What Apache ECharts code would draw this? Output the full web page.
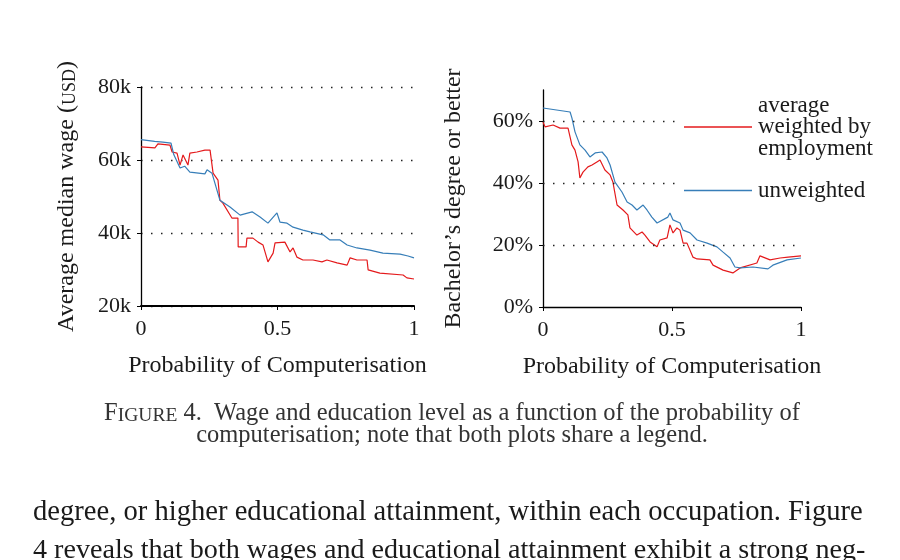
<!DOCTYPE html>
<html>
<head>
<meta charset="utf-8">
<script src="https://cdn.jsdelivr.net/npm/echarts@6/dist/echarts.min.js"></script>
<style>
html, body { margin: 0; padding: 0; background: #fff; }
#chart { width: 900px; height: 560px; }
</style>
</head>
<body>
<div id="chart"></div>
<script>
const serif = 'Liberation Serif'
const ink = '#1a1a1a'
const red = '#e41a1c'
const blue = '#377eb8'

// [probability of computerisation, average median wage in k USD]
const wageUnweighted = [[0, 65.6], [0.05, 65.1], [0.08, 64.9], [0.11, 64.6], [0.12, 61.5], [0.143, 57.8], [0.16, 58.3], [0.179, 56.7], [0.234, 56.2], [0.242, 57.3], [0.26, 56.4], [0.289, 49.0], [0.326, 47.1], [0.363, 44.9], [0.407, 45.8], [0.436, 44.4], [0.465, 42.7], [0.498, 45.5], [0.509, 43.0], [0.535, 42.7], [0.557, 41.6], [0.593, 40.8], [0.619, 40.3], [0.667, 39.5], [0.692, 38.1], [0.729, 38.1], [0.755, 36.7], [0.791, 35.9], [0.839, 35.3], [0.886, 34.5], [0.949, 34.2], [0.978, 33.7], [1, 33.2]]
const wageWeighted = [[0, 63.6], [0.051, 63.3], [0.062, 64.4], [0.106, 64.1], [0.114, 62.2], [0.132, 61.9], [0.143, 58.6], [0.154, 61.4], [0.172, 58.6], [0.179, 61.9], [0.205, 62.2], [0.234, 62.7], [0.253, 62.7], [0.264, 56.4], [0.282, 54.5], [0.289, 49.0], [0.3, 48.2], [0.333, 44.1], [0.355, 44.1], [0.356, 36.2], [0.385, 36.2], [0.388, 38.6], [0.41, 38.6], [0.429, 37.5], [0.447, 36.7], [0.465, 32.1], [0.484, 34.5], [0.491, 37.3], [0.527, 37.5], [0.546, 34.8], [0.557, 35.9], [0.571, 33.4], [0.593, 32.6], [0.63, 32.6], [0.663, 32.1], [0.681, 32.6], [0.718, 31.8], [0.755, 31.2], [0.766, 33.2], [0.791, 32.6], [0.828, 32.6], [0.832, 29.9], [0.875, 29.0], [0.96, 28.5], [0.974, 27.7], [1, 27.4]]

// [probability of computerisation, share with bachelor's degree or better in %]
const eduUnweighted = [[0, 64.2], [0.105, 62.9], [0.112, 61.0], [0.124, 56.5], [0.143, 52.3], [0.163, 50.6], [0.182, 48.4], [0.202, 49.7], [0.229, 50.0], [0.248, 48.1], [0.26, 45.8], [0.279, 40.3], [0.306, 37.1], [0.326, 33.9], [0.345, 32.9], [0.364, 31.3], [0.388, 32.9], [0.403, 31.3], [0.422, 29.0], [0.442, 27.1], [0.484, 29.0], [0.492, 30.3], [0.504, 28.1], [0.531, 27.1], [0.543, 24.8], [0.57, 23.9], [0.597, 21.6], [0.636, 20.6], [0.674, 19.4], [0.698, 17.7], [0.725, 15.8], [0.744, 12.9], [0.764, 12.6], [0.814, 12.9], [0.872, 12.3], [0.891, 13.5], [0.946, 15.2], [1, 15.8]]
const eduWeighted = [[0, 59.7], [0.008, 58.1], [0.039, 58.7], [0.066, 57.7], [0.097, 57.7], [0.112, 52.3], [0.124, 50.6], [0.136, 46.8], [0.143, 41.6], [0.155, 43.5], [0.174, 45.2], [0.19, 45.8], [0.209, 46.8], [0.221, 47.4], [0.24, 44.2], [0.26, 42.6], [0.271, 40.3], [0.287, 32.9], [0.31, 31.3], [0.329, 29.7], [0.337, 25.5], [0.364, 23.2], [0.384, 24.2], [0.395, 23.2], [0.415, 21.0], [0.442, 19.4], [0.453, 21.6], [0.481, 22.3], [0.492, 26.5], [0.504, 23.9], [0.519, 25.5], [0.531, 24.8], [0.543, 20.6], [0.558, 20.6], [0.581, 16.1], [0.597, 15.5], [0.647, 15.2], [0.659, 13.5], [0.698, 11.9], [0.736, 11.0], [0.764, 12.6], [0.829, 14.2], [0.841, 16.5], [0.88, 15.2], [0.919, 15.8], [0.95, 16.1], [1, 16.5]]

const wageTicks = [20, 40, 60, 80]
const eduTicks = [0, 20, 40, 60]
const eduGrid = [20, 40, 60]

const nameWeighted = 'average weighted by employment'
const nameUnweighted = 'unweighted'

const dotted = { type: [1.5, 8.5], color: '#222', width: 1.3 }
const labelStyle = { fontFamily: serif, fontSize: 22, color: ink }
const legendText = { fontFamily: serif, fontSize: 23, lineHeight: 21.5, color: ink, padding: [0, 0, 0, 1] }

const xAxisBase = (gridIndex, lineWidth) => ({
    type: 'value',
    gridIndex,
    min: 0,
    max: 1,
    interval: 0.5,
    name: 'Probability of Computerisation',
    nameLocation: 'middle',
    nameGap: 48,
    nameTextStyle: { fontFamily: serif, fontSize: 24, color: ink },
    axisLine: { lineStyle: { color: '#000', width: lineWidth } },
    axisTick: { length: 4, lineStyle: { color: '#000', width: 1 } },
    axisLabel: { ...labelStyle, margin: 12 },
    splitLine: { show: false }
})

const chart = echarts.init(document.getElementById('chart'))
chart.setOption({
    animation: false,
    backgroundColor: '#fff',
    grid: [
        { left: 141, right: 486, top: 87, bottom: 254 },
        { left: 543, right: 99, top: 90, bottom: 253 }
    ],
    xAxis: [xAxisBase(0, 2), xAxisBase(1, 1.3)],
    yAxis: [
        {
            type: 'value',
            gridIndex: 0,
            min: 20,
            max: 80,
            interval: 20,
            name: 'Average median wage ({sc|USD})',
            nameLocation: 'middle',
            nameGap: 62,
            nameTextStyle: {
                fontFamily: serif, fontSize: 24, color: ink,
                rich: { sc: { fontFamily: serif, fontSize: 18, color: ink, verticalAlign: 'bottom' } }
            },
            axisLine: { show: true, lineStyle: { color: '#000', width: 1.3 } },
            axisTick: { show: true, length: 4, customValues: wageTicks, lineStyle: { color: '#000' } },
            axisLabel: { ...labelStyle, margin: 10, customValues: wageTicks, formatter: v => v + 'k' },
            splitLine: { show: true, lineStyle: dotted }
        },
        {
            type: 'value',
            gridIndex: 1,
            min: 0,
            max: 70,
            interval: 20,
            name: 'Bachelor\u2019s degree or better',
            nameLocation: 'middle',
            nameGap: 77,
            nameTextStyle: { fontFamily: serif, fontSize: 24, color: ink },
            axisLine: { show: true, lineStyle: { color: '#000', width: 1.3 } },
            axisTick: { show: true, length: 4, customValues: eduTicks, lineStyle: { color: '#000' } },
            axisLabel: { ...labelStyle, margin: 10, customValues: eduTicks, formatter: v => v + '%' },
            splitLine: { show: false }
        }
    ],
    legend: [
        {
            data: [nameWeighted],
            left: 683,
            top: 88,
            z: 10,
            icon: 'rect',
            itemWidth: 68,
            itemHeight: 1.3,
            padding: [6, 4, 6, 1],
            backgroundColor: '#fff',
            formatter: () => 'average\nweighted by\nemployment',
            textStyle: legendText
        },
        {
            data: [nameUnweighted],
            left: 683,
            top: 173,
            z: 10,
            icon: 'rect',
            itemWidth: 68,
            itemHeight: 1.3,
            padding: [6, 4, 6, 1],
            backgroundColor: '#fff',
            textStyle: legendText
        }
    ],
    title: [
        {
            text: '{big|F}{sc|IGURE} 4.  Wage and education level as a function of the probability of',
            left: 452, top: 401, textAlign: 'center', padding: 0,
            textStyle: {
                fontFamily: serif, fontSize: 24.5, fontWeight: 'normal', color: '#333',
                rich: {
                    big: { fontFamily: serif, fontSize: 24.5, color: '#333', verticalAlign: 'bottom' },
                    sc: { fontFamily: serif, fontSize: 19.5, color: '#333', verticalAlign: 'bottom' }
                }
            }
        },
        {
            text: 'computerisation; note that both plots share a legend.',
            left: 452, top: 423, textAlign: 'center', padding: 0,
            textStyle: { fontFamily: serif, fontSize: 24.5, fontWeight: 'normal', color: '#333' }
        },
        {
            text: 'degree, or higher educational attainment, within each occupation. Figure',
            left: 33, top: 498, padding: 0,
            textStyle: { fontFamily: serif, fontSize: 28.6, fontWeight: 'normal', color: ink }
        },
        {
            text: '4 reveals that both wages and educational attainment exhibit a strong neg-',
            left: 33, top: 537, padding: 0,
            textStyle: { fontFamily: serif, fontSize: 28.1, fontWeight: 'normal', color: ink }
        }
    ],
    series: [
        {
            name: nameWeighted, type: 'line', xAxisIndex: 0, yAxisIndex: 0,
            data: wageWeighted, showSymbol: false, color: red, lineStyle: { width: 1.2 }
        },
        {
            name: nameUnweighted, type: 'line', xAxisIndex: 0, yAxisIndex: 0,
            data: wageUnweighted, showSymbol: false, color: blue, lineStyle: { width: 1.2 }
        },
        {
            name: nameWeighted, type: 'line', xAxisIndex: 1, yAxisIndex: 1,
            data: eduWeighted, showSymbol: false, color: red, lineStyle: { width: 1.2 },
            markLine: {
                silent: true, symbol: 'none', label: { show: false },
                lineStyle: dotted,
                data: eduGrid.map(v => ({ yAxis: v }))
            }
        },
        {
            name: nameUnweighted, type: 'line', xAxisIndex: 1, yAxisIndex: 1,
            data: eduUnweighted, showSymbol: false, color: blue, lineStyle: { width: 1.2 }
        }
    ]
})
</script>
</body>
</html>
